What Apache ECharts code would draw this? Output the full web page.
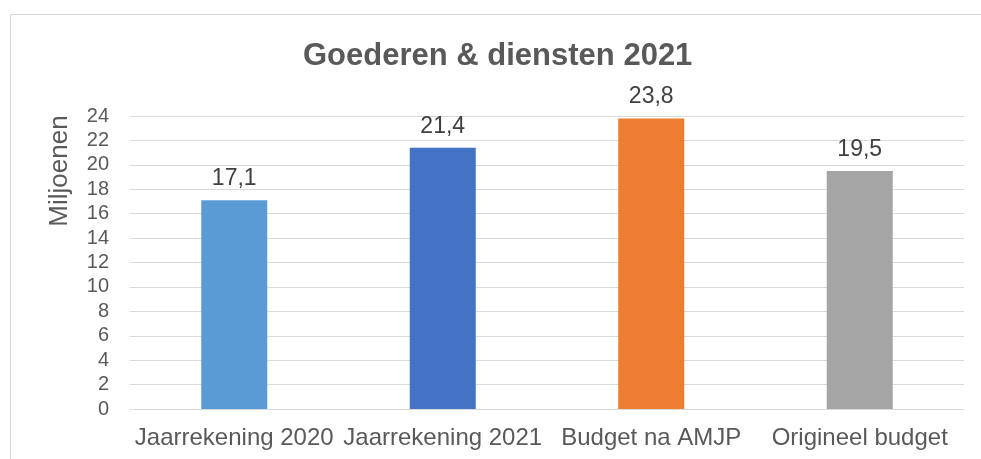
<!DOCTYPE html>
<html>
<head>
<meta charset="utf-8">
<title>Goederen & diensten 2021</title>
<script src="https://cdn.jsdelivr.net/npm/echarts@6/dist/echarts.min.js"></script>
<style>
  html, body { margin: 0; padding: 0; background: #fff; }
  #chart { width: 981px; height: 459px; }
</style>
</head>
<body>
<div id="chart"></div>
<script>
// data (miljoenen)
const categories = ['Jaarrekening 2020', 'Jaarrekening 2021', 'Budget na AMJP', 'Origineel budget'];
const values = [17.1, 21.4, 23.8, 19.5];
const barColors = ['#5B9BD5', '#4472C4', '#ED7D31', '#A5A5A5'];
const yTicks = [0, 2, 4, 6, 8, 10, 12, 14, 16, 18, 20, 22, 24];

const chart = echarts.init(document.getElementById('chart'), null, { renderer: 'canvas' });

const textColor = '#595959';
const font = 'Liberation Sans, Arial, sans-serif';

const option = {
  backgroundColor: '#fff',
  animation: false,
  title: {
    text: 'Goederen & diensten 2021',
    left: 303,
    top: 41,
    padding: 0,
    textStyle: { color: textColor, fontSize: 31, fontWeight: 'bold', fontFamily: font }
  },
  graphic: [
    {
      // chart frame, only left and top edges are visible
      type: 'rect',
      shape: { x: 10.5, y: 14.5, width: 1000, height: 500 },
      style: { fill: 'none', stroke: '#d9d9d9', lineWidth: 1 },
      silent: true,
      z: -1
    },
    {
      type: 'text',
      x: 60,
      y: 171,
      rotation: Math.PI / 2,
      style: {
        text: 'Miljoenen',
        fill: textColor,
        font: '26px ' + font,
        textAlign: 'center',
        textVerticalAlign: 'middle'
      }
    }
  ],
  grid: { left: 130, right: 17, top: 116, bottom: 50 },
  xAxis: {
    type: 'category',
    data: categories,
    axisLine: { lineStyle: { color: '#d9d9d9', width: 1 } },
    axisTick: { show: false },
    axisLabel: { color: textColor, fontSize: 24, fontFamily: font, margin: 17, interval: 0 }
  },
  yAxis: {
    type: 'value',
    min: yTicks[0],
    max: yTicks[yTicks.length - 1],
    interval: yTicks[1] - yTicks[0],
    axisLine: { show: false },
    axisTick: { show: false },
    axisLabel: { color: textColor, fontSize: 20, fontFamily: font, margin: 21 },
    splitLine: { lineStyle: { color: '#d9d9d9', width: 1 } }
  },
  series: [{
    type: 'bar',
    barWidth: 66,
    data: values.map((v, i) => ({ value: v, itemStyle: { color: barColors[i] } })),
    label: {
      show: true,
      position: 'top',
      distance: 10,
      color: '#404040',
      fontSize: 23,
      fontFamily: font,
      formatter: p => String(p.value).replace('.', ',')
    }
  }]
};

chart.setOption(option);
</script>
</body>
</html>
